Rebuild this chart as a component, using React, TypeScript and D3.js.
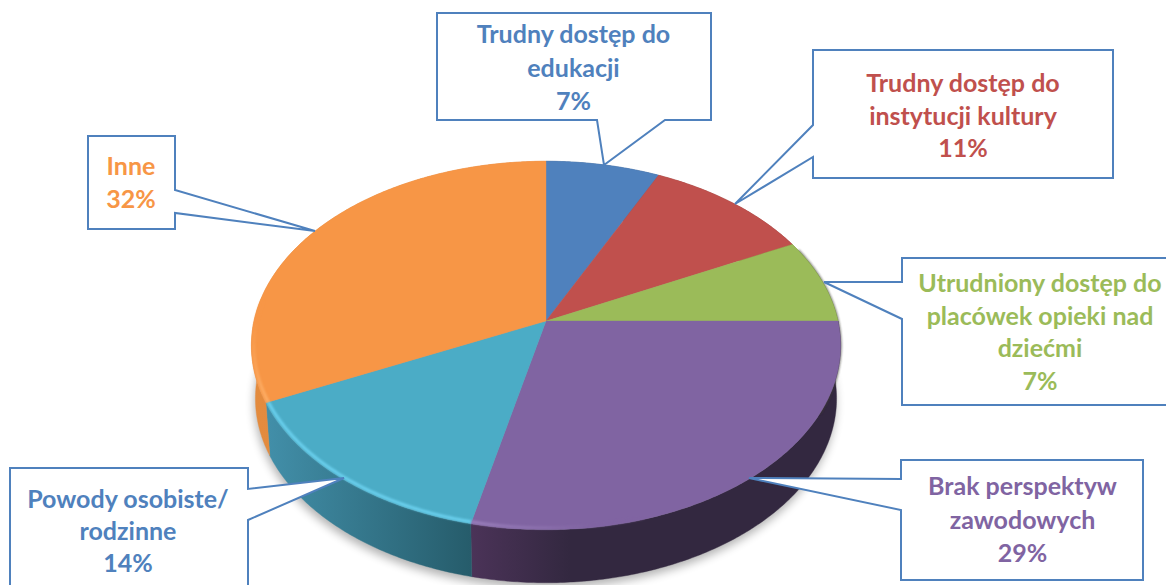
import React from "react";
import * as d3 from "d3";

const categories = [
  "Trudny dostęp do edukacji",
  "Trudny dostęp do instytucji kultury",
  "Utrudniony dostęp do placówek opieki nad dziećmi",
  "Brak perspektyw zawodowych",
  "Powody osobiste/ rodzinne",
  "Inne",
];
const values = [7.1, 10.5, 7.4, 28.6, 14.4, 32];
const topColors = ["#4f81bd", "#c0504d", "#9bbb59", "#8064a2", "#4bacc6", "#f79646"];
const textColors = ["#4f81bd", "#c0504d", "#9bbb59", "#8064a2", "#4f81bd", "#f79646"];
const sideLeft = ["#3c5f8c", "#8e3a38", "#738a42", "#4b3358", "#428fa9", "#e38b3e"];
const sideRight = ["#3c5f8c", "#8e3a38", "#738a42", "#332840", "#265c6b", "#e08539"];
const rimColors = ["#4f81bd", "#c0504d", "#9bbb59", "#9a7fbc", "#6bd0ee", "#fdae66"];
const labelLines = [
  ["Trudny dostęp do", "edukacji"],
  ["Trudny dostęp do", "instytucji kultury"],
  ["Utrudniony dostęp do", "placówek opieki nad", "dziećmi"],
  ["Brak perspektyw", "zawodowych"],
  ["Powody osobiste/", "rodzinne"],
  ["Inne"],
];

// Layout of the callouts: box, wedge (in path order) and text placement.
const callouts = [
  { x0: 437, y0: 13, x1: 711, y1: 120, side: "bottom", a: [597, 120], tip: [604, 165], b: [665, 120], cx: 573.5, base: 43, step: 33.5 },
  { x0: 813, y0: 50, x1: 1113, y1: 178, side: "left", a: [813, 125], tip: [735, 204], b: [813, 157], cx: 963, base: 92, step: 32.5 },
  { x0: 902, y0: 258, x1: 1172, y1: 405, side: "left", a: [902, 282], tip: [824, 282], b: [902, 319], cx: 1040, base: 292, step: 32.5 },
  { x0: 901, y0: 460, x1: 1143, y1: 580, side: "left", a: [901, 479], tip: [749, 478], b: [901, 510], cx: 1022.5, base: 495, step: 33.5 },
  { x0: 10, y0: 468, x1: 248, y1: 600, side: "right", a: [248, 489], tip: [344, 478], b: [248, 520], cx: 128, base: 508, step: 32 },
  { x0: 88, y0: 136, x1: 175, y1: 229, side: "right", a: [175, 190], tip: [315, 231], b: [175, 213], cx: 131, base: 175, step: 33 },
];

const CX = 546;
const TILT = 0.133;
const Y_RADIUS = 181;
const TOP = { cy: 321, a: 292 };
const BOTTOM = { cy: 374, a: 288 };

type Level = { cy: number; a: number };
const project = (angle: number, level: Level, r = 1): [number, number] => {
  const u = Math.sin(angle) * r;
  const v = -Math.cos(angle) * r;
  const d = 1 - TILT * v;
  return [CX + (level.a * u) / d, level.cy + (Y_RADIUS * v) / d];
};

const rimPoints = (a0: number, a1: number, level: Level, r = 1) => {
  const n = Math.max(2, Math.ceil(Math.abs(a1 - a0) / 0.01));
  return d3.range(n + 1).map((i) => project(a0 + ((a1 - a0) * i) / n, level, r));
};

const line = d3.line();
const arcs = d3
  .pie<number>()
  .sort(null)
  .startAngle(0)
  .endAngle(Math.PI * 2)(values);

const FRONT_LEFT = Math.PI;

function Callout({ c, lines, pct, color }: any) {
  const box = (() => {
    if (c.side === "bottom")
      return [[c.x0, c.y0], [c.x1, c.y0], [c.x1, c.y1], c.b, c.tip, c.a, [c.x0, c.y1]];
    if (c.side === "left")
      return [[c.x0, c.y0], [c.x1, c.y0], [c.x1, c.y1], [c.x0, c.y1], c.b, c.tip, c.a];
    return [[c.x0, c.y0], [c.x1, c.y0], c.a, c.tip, c.b, [c.x1, c.y1], [c.x0, c.y1]];
  })();
  const all = [...lines, pct];
  return (
    <g>
      <path
        d={line(box as [number, number][]) + "Z"}
        fill="#fff"
        stroke="#4f81bd"
        strokeWidth={2}
        strokeLinejoin="miter"
      />
      {all.map((t: string, i: number) => (
        <text
          key={i}
          x={c.cx}
          y={c.base + i * c.step}
          textAnchor="middle"
          fill={color}
          fontFamily="Lato, sans-serif"
          fontWeight={700}
          fontSize={25}
        >
          {t}
        </text>
      ))}
    </g>
  );
}

export default function App() {
  const silhouette = line(rimPoints(0, Math.PI * 2, BOTTOM)) + "Z";
  return (
    <svg
      width={1166}
      height={585}
      viewBox="0 0 1166 585"
      style={{ position: "absolute", left: 0, top: 0, display: "block", background: "#fff" }}
    >
      <defs>
        <filter id="soft" x="-10%" y="-10%" width="120%" height="120%">
          <feGaussianBlur stdDeviation="5" />
        </filter>
        <filter id="rimBlur" x="-10%" y="-10%" width="120%" height="120%">
          <feGaussianBlur stdDeviation="0.8" />
        </filter>
        {arcs.map((s, i) => {
          const pts = rimPoints(s.startAngle, s.endAngle, TOP);
          const xs = pts.map((p) => p[0]);
          return (
            <linearGradient
              key={i}
              id={`side${i}`}
              gradientUnits="userSpaceOnUse"
              x1={d3.min(xs)}
              x2={i === 3 ? 570 : d3.max(xs)}
              y1={0}
              y2={0}
            >
              <stop offset="0" stopColor={sideLeft[i]} />
              <stop offset="1" stopColor={sideRight[i]} />
            </linearGradient>
          );
        })}
        <linearGradient id="rimPurple" gradientUnits="userSpaceOnUse" x1={470} x2={590} y1={0} y2={0}>
          <stop offset="0" stopColor="#9a7fbc" />
          <stop offset="1" stopColor="#8064a2" />
        </linearGradient>
        <linearGradient id="rimOrange" gradientUnits="userSpaceOnUse" x1={0} x2={0} y1={320} y2={400}>
          <stop offset="0" stopColor="#f79646" />
          <stop offset="1" stopColor="#fdae66" />
        </linearGradient>
      </defs>

      {/* soft shadow under the pie */}
      <path d={silhouette} transform="translate(-1,5)" fill="#000" opacity={0.3} filter="url(#soft)" />

      {/* outer wall */}
      {arcs.map((s, i) => {
        const top = rimPoints(s.startAngle, s.endAngle, TOP);
        const bottom = rimPoints(s.startAngle, s.endAngle, BOTTOM).reverse();
        return (
          <path
            key={i}
            d={line([...top, ...bottom]) + "Z"}
            fill={`url(#side${i})`}
            stroke={`url(#side${i})`}
            strokeWidth={0.4}
          />
        );
      })}

      {/* thin dark edge along the right-hand rim */}
      <path
        d={line(rimPoints(arcs[1].startAngle + 0.7, arcs[3].startAngle + 0.5, TOP)) as string}
        fill="none"
        stroke="#3a3a30"
        strokeWidth={2}
        opacity={0.7}
        filter="url(#rimBlur)"
      />

      {/* top face */}
      {arcs.map((s, i) => (
        <path
          key={i}
          d={line([project(0, TOP, 0), ...rimPoints(s.startAngle, s.endAngle, TOP)]) + "Z"}
          fill={topColors[i]}
          stroke={topColors[i]}
          strokeWidth={0.4}
        />
      ))}

      {/* bevel highlight along the front rim */}
      <path
        d={line(rimPoints(arcs[4].startAngle, arcs[4].endAngle, TOP, 0.992)) as string}
        fill="none"
        stroke={rimColors[4]}
        strokeWidth={3}
        filter="url(#rimBlur)"
      />
      <path
        d={line(rimPoints(arcs[3].endAngle, FRONT_LEFT - 0.3, TOP, 0.992)) as string}
        fill="none"
        stroke="url(#rimPurple)"
        strokeWidth={3}
        filter="url(#rimBlur)"
      />
      <path
        d={line(rimPoints(arcs[5].startAngle, arcs[5].startAngle + 0.55, TOP, 0.992)) as string}
        fill="none"
        stroke="url(#rimOrange)"
        strokeWidth={3}
        filter="url(#rimBlur)"
      />

      {callouts.map((c, i) => (
        <Callout
          key={categories[i]}
          c={c}
          lines={labelLines[i]}
          pct={`${Math.round(values[i])}%`}
          color={textColors[i]}
        />
      ))}
    </svg>
  );
}
